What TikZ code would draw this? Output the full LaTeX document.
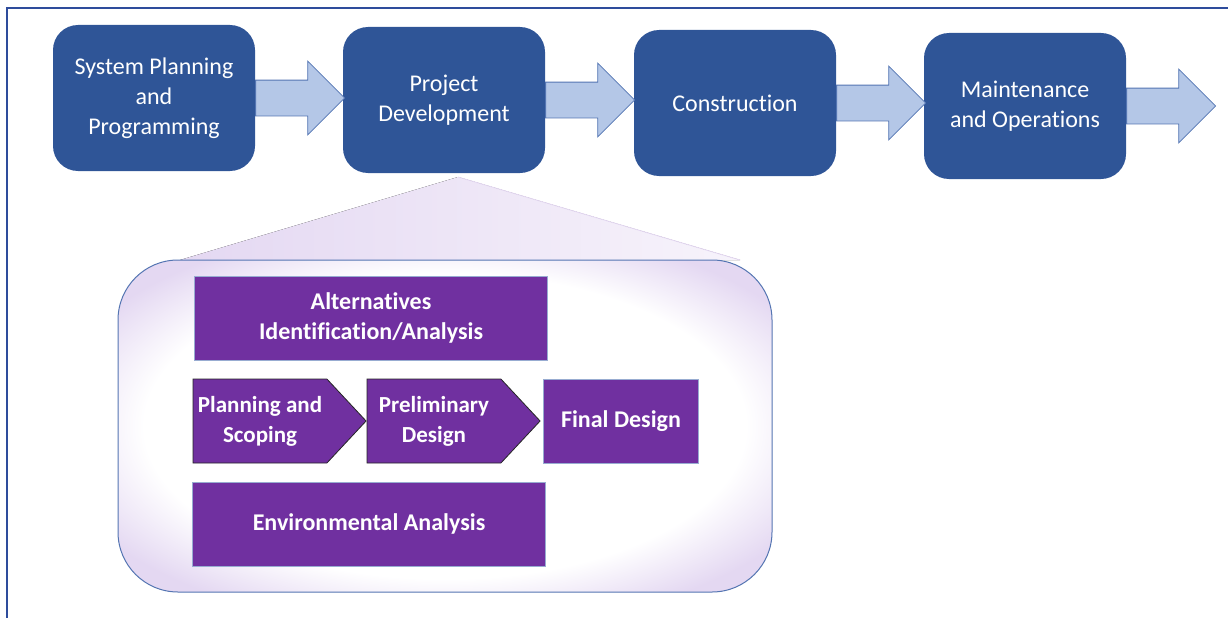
\documentclass[tikz,border=0pt]{standalone}
\usepackage{fontspec}
\setmainfont{Carlito}[Ligatures=CommonOff]
\usetikzlibrary{shapes.arrows,shapes.symbols,calc}
\definecolor{pd_blue}{RGB}{47, 85, 151}
\definecolor{pd_sky}{RGB}{180, 199, 231}
\definecolor{pd_line}{RGB}{84, 117, 178}
\definecolor{pd_purple}{RGB}{112, 48, 160}
\definecolor{pd_lilac}{RGB}{228, 216, 242}
\definecolor{pd_frame}{RGB}{46, 76, 156}
\pgfdeclareradialshading{glow}{\pgfpoint{0bp}{0bp}}{color(0bp)=(white); color(23bp)=(white); color(31bp)=(pd_lilac); color(50bp)=(pd_lilac)}
\tikzstyle{bn}=[rectangle,rounded corners=25pt,fill=pd_blue,text=white,
  minimum width=202pt,minimum height=146pt,align=center,
  font=\fontsize{24}{30}\selectfont]
\tikzstyle{ba}=[single arrow,fill=pd_sky,draw=pd_line,line width=0.8pt,
  single arrow head extend=19pt,single arrow tip angle=90,anchor=tail,
  inner xsep=0pt,inner ysep=17.5pt,minimum height=89pt]
\tikzstyle{pn}=[rectangle,fill=pd_purple,draw=pd_line!60,line width=0.6pt,
  text=white,align=center,minimum height=84pt,
  font=\bfseries\fontsize{24}{30}\selectfont]
\tikzstyle{pa}=[signal,signal to=east,signal pointer angle=94,fill=pd_purple,
  draw=black!85,line width=0.8pt,text=white,align=center,
  minimum width=173pt,minimum height=84pt,inner sep=0pt,
  font=\bfseries\fontsize{23}{30}\selectfont]
\tikzstyle{hb}=[rectangle,rounded corners=60pt,shade,shading=glow,draw=pd_line,
  line width=1pt,minimum width=654pt,minimum height=332pt]

\begin{document}
\begin{tikzpicture}[x=1pt,y=-1pt]
            \useasboundingbox (0,0) rectangle (1228,618);
            \draw [pd_frame, line width=1.5pt] (1240,8) -- (7,8) -- (7,630);
            \node [style=bn] (0) at (154, 98) {System Planning\\and\\Programming};
            \node [style=bn] (1) at (444, 100) {Project\\Development};
            \node [style=bn] (2) at (735, 103) {Construction};
            \node [style=bn] (3) at (1025, 106) {Maintenance\\and Operations};
            \node [style=ba] (4) at (0.east) {};
            \node [style=ba] (5) at (1.east) {};
            \node [style=ba] (6) at (2.east) {};
            \node [style=ba] (7) at (3.east) {};
            \coordinate (8) at (458, 177);
            \coordinate (9) at (180, 260);
            \coordinate (10) at (740, 260);
            \fill [left color=pd_lilac, right color=pd_lilac!30] (8) -- (10) -- (9) -- cycle;
            \draw [pd_lilac, line width=0.8pt] (8) to (10);
            \node [style=hb] (11) at (445, 426) {};
            \node [style=pn, minimum width=353pt] (12) at (371, 318) {Alternatives\\Identification/Analysis};
            \node [style=pa] (13) at (260, 421) {Planning and\\Scoping};
            \node [style=pa] (14) at (434, 421) {Preliminary\\Design};
            \node [style=pn, minimum width=155pt] (15) at (621, 421) {Final Design};
            \node [style=pn, minimum width=353pt] (16) at (369, 524) {Environmental Analysis};
    \end{tikzpicture}
\end{document}
